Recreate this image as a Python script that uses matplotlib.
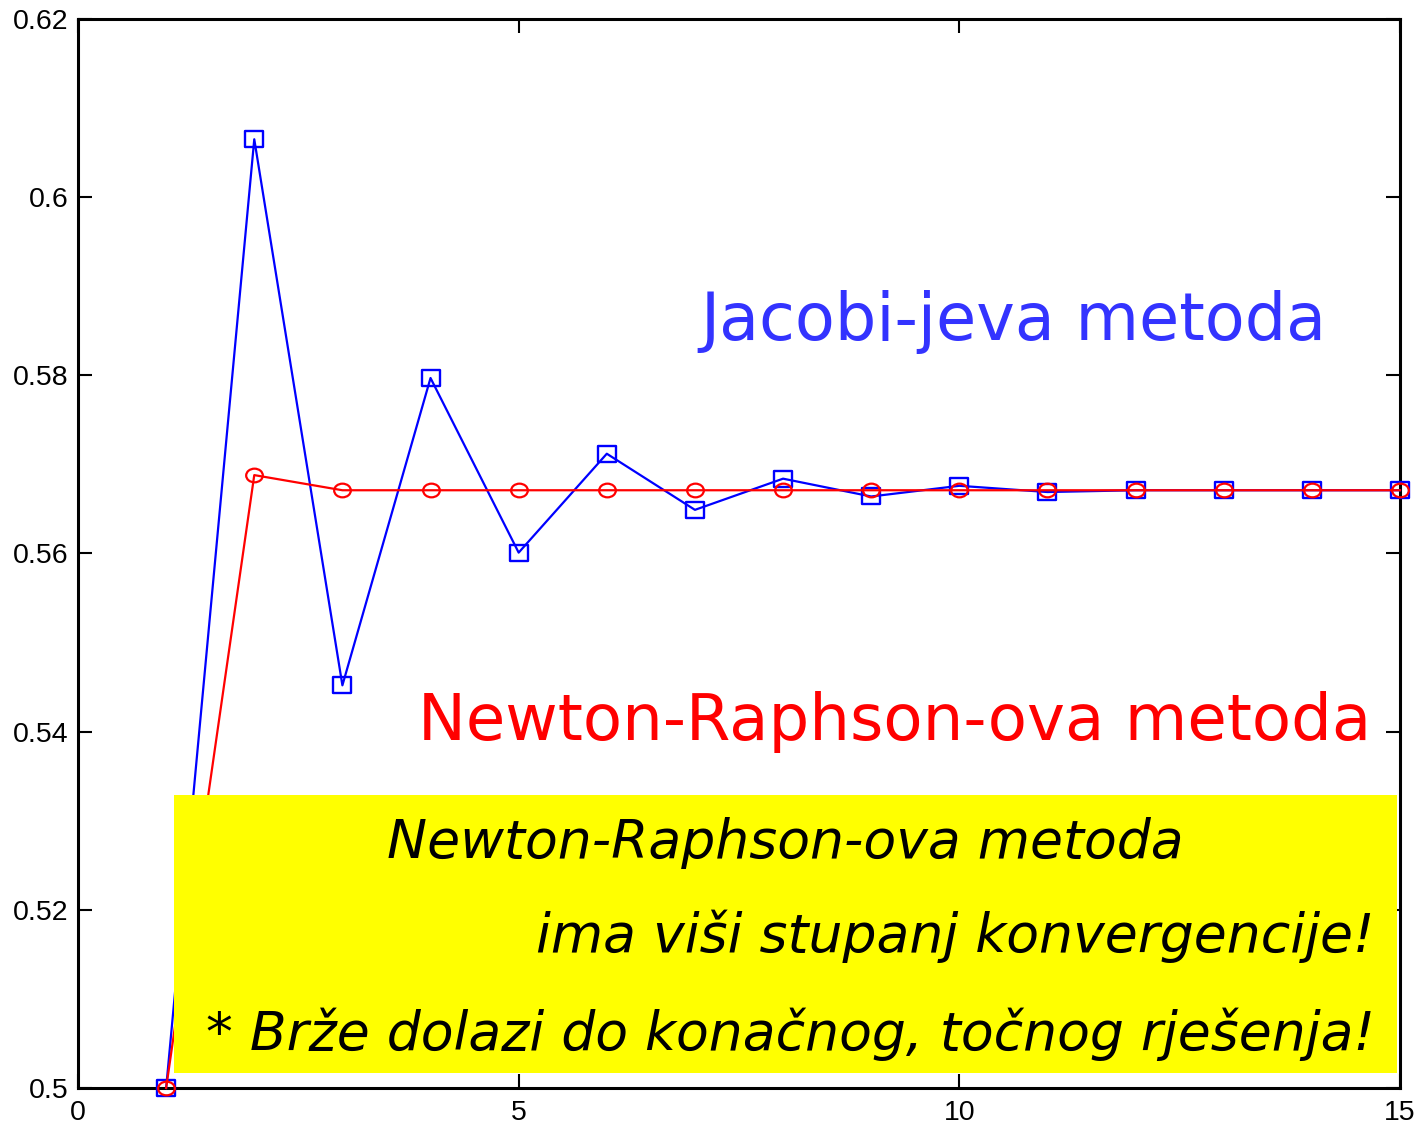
import numpy as np
import matplotlib
matplotlib.use("Agg")
import matplotlib.pyplot as plt
from matplotlib.path import Path
from matplotlib.patches import Rectangle
from matplotlib.transforms import Affine2D

# iteration number and the successive approximations of each method
iteracije = [1, 2, 3, 4, 5, 6, 7, 8, 9, 10, 11, 12, 13, 14, 15]
jacobi = [0.5, 0.6065, 0.5452, 0.5797, 0.5601, 0.5712, 0.5649, 0.5684,
          0.5664, 0.5676, 0.5669, 0.5671, 0.5671, 0.5671, 0.5671]
newton = [0.5, 0.5688, 0.5671, 0.5671, 0.5671, 0.5671, 0.5671, 0.5671,
          0.5671, 0.5671, 0.5671, 0.5671, 0.5671, 0.5671, 0.5671]

xticks = [0, 5, 10, 15]
yticks = [0.5, 0.52, 0.54, 0.56, 0.58, 0.6, 0.62]
ytick_labels = ["0.5", "0.52", "0.54", "0.56", "0.58", "0.6", "0.62"]

# slightly wide markers
kvadrat = Path([(-1, -0.85), (1, -0.85), (1, 0.85), (-1, 0.85), (-1, -0.85)],
               [Path.MOVETO, Path.LINETO, Path.LINETO, Path.LINETO, Path.CLOSEPOLY])
krug = Path.unit_circle().transformed(Affine2D().scale(1, 0.82))

fig = plt.figure(figsize=(14.24, 11.31), dpi=100)
ax = fig.add_axes([78 / 1424, 43 / 1131, 1322 / 1424, 1069 / 1131])

ax.plot(iteracije, jacobi, color="#0000ff", lw=1.6, marker=kvadrat, ms=13.5,
        mfc="none", mec="#0000ff", mew=1.7, clip_on=False, zorder=3)
ax.plot(iteracije, newton, color="#ff0000", lw=1.6, marker=krug, ms=12,
        mfc="none", mec="#ff0000", mew=1.6, clip_on=False, zorder=3)

ax.set_xlim(0, 15)
ax.set_ylim(0.5, 0.62)
ax.set_xticks(xticks)
ax.set_xticklabels([str(t) for t in xticks])
ax.set_yticks(yticks)
ax.set_yticklabels(ytick_labels)
for lbl in ax.get_xticklabels() + ax.get_yticklabels():
    lbl.set_fontfamily("Liberation Sans")
    lbl.set_fontsize(20.5)
ax.tick_params(direction="in", top=True, right=True, length=10, width=1.5,
               pad=7)
ax.tick_params(axis="x", pad=9)
for s in ax.spines.values():
    s.set_linewidth(2.2)

ax.text(700 / 1424, 1 - 340 / 1131, "Jacobi-jeva metoda", transform=fig.transFigure,
        color="#3333ff", fontsize=47, family="DejaVu Sans", ha="left", va="baseline")
ax.text(418 / 1424, 1 - 740 / 1131, "Newton-Raphson-ova metoda", transform=fig.transFigure,
        color="#ff0000", fontsize=46.2, family="DejaVu Sans", ha="left", va="baseline")

# yellow note box
ax.add_patch(Rectangle((0.0726, 0.014), 0.9251, 0.26, transform=ax.transAxes,
                       facecolor="#ffff00", edgecolor="none", zorder=4))
ital = dict(transform=fig.transFigure, color="black", fontsize=38.6,
            family="DejaVu Sans", style="italic", va="baseline", zorder=5)
ax.text(785 / 1424, 1 - 858 / 1131, "Newton-Raphson-ova metoda", ha="center", **ital)
ax.text(1375 / 1424, 1 - 952 / 1131, "ima viši stupanj konvergencije!", ha="right", **ital)
ax.text(1375 / 1424, 1 - 1050 / 1131, "* Brže dolazi do konačnog, točnog rješenja!",
        ha="right", **ital)

fig.savefig("out.png", dpi=100)
